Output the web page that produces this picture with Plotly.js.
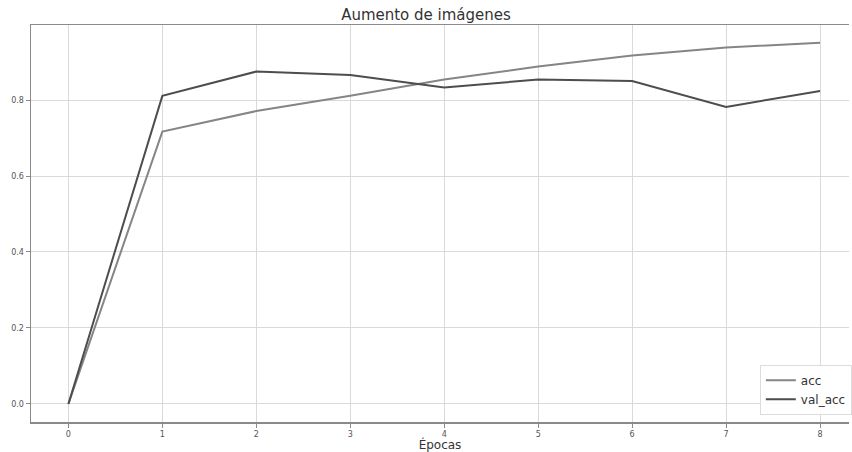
<!DOCTYPE html>
<html>
<head>
<meta charset="utf-8">
<script src="https://cdn.plot.ly/plotly-3.0.1.min.js"></script>
<style>html,body{margin:0;padding:0;background:#fff;overflow:hidden}#chart{width:852px;height:452px}</style>
</head>
<body>
<div id="chart"></div>
<script>
const epochs = [0, 1, 2, 3, 4, 5, 6, 7, 8];
const acc = [0.0, 0.717, 0.771, 0.811, 0.854, 0.888, 0.917, 0.938, 0.951];
const valAcc = [0.0, 0.811, 0.875, 0.866, 0.833, 0.854, 0.850, 0.782, 0.824];
const xTicks = [0, 1, 2, 3, 4, 5, 6, 7, 8];
const yTicks = [0.0, 0.2, 0.4, 0.6, 0.8];
const yTickText = ['0.0', '0.2', '0.4', '0.6', '0.8'];

const traces = [
  {x: epochs, y: acc, name: 'acc', mode: 'lines', line: {color: '#858585', width: 2}},
  {x: epochs, y: valAcc, name: 'val_acc', mode: 'lines', line: {color: '#4d4d4d', width: 2}}
];

const layout = {
  width: 852, height: 452,
  margin: {l: 31, r: 0, t: 25, b: 30},
  paper_bgcolor: '#fff', plot_bgcolor: '#fff',
  font: {family: 'DejaVu Sans, sans-serif', color: '#444'},
  title: {text: 'Aumento de imágenes', x: 0.5, xanchor: 'center', y: 0.967, yanchor: 'middle',
          font: {size: 15, color: '#333'}},
  xaxis: {
    range: [-0.398, 8.308], tickvals: xTicks, ticktext: xTicks.map(String),
    showgrid: true, gridcolor: '#d9d9d9', gridwidth: 1, zeroline: false,
    showline: true, linecolor: '#8a8a8a', linewidth: 1.5, mirror: true,
    ticks: 'outside', ticklen: 4, tickcolor: '#8a8a8a',
    tickfont: {size: 8, color: '#555'},
    title: {text: 'Épocas', font: {size: 12, color: '#333'}, standoff: 4}
  },
  yaxis: {
    range: [-0.0475, 0.9975], tickvals: yTicks, ticktext: yTickText,
    showgrid: true, gridcolor: '#d9d9d9', gridwidth: 1, zeroline: false,
    showline: true, linecolor: '#8a8a8a', linewidth: 1.5, mirror: false,
    ticks: 'outside', ticklen: 4, tickcolor: '#8a8a8a',
    tickfont: {size: 8, color: '#555'}
  },
  legend: {
    x: 0.891, xanchor: 'left', y: 0.018, yanchor: 'bottom',
    bgcolor: 'rgba(255,255,255,0.9)', bordercolor: '#dcdcdc', borderwidth: 1,
    font: {size: 12, color: '#333'}, tracegroupgap: 0
  },
  showlegend: true
};

Plotly.newPlot('chart', traces, layout, {displayModeBar: false, staticPlot: true});
</script>
</body>
</html>
